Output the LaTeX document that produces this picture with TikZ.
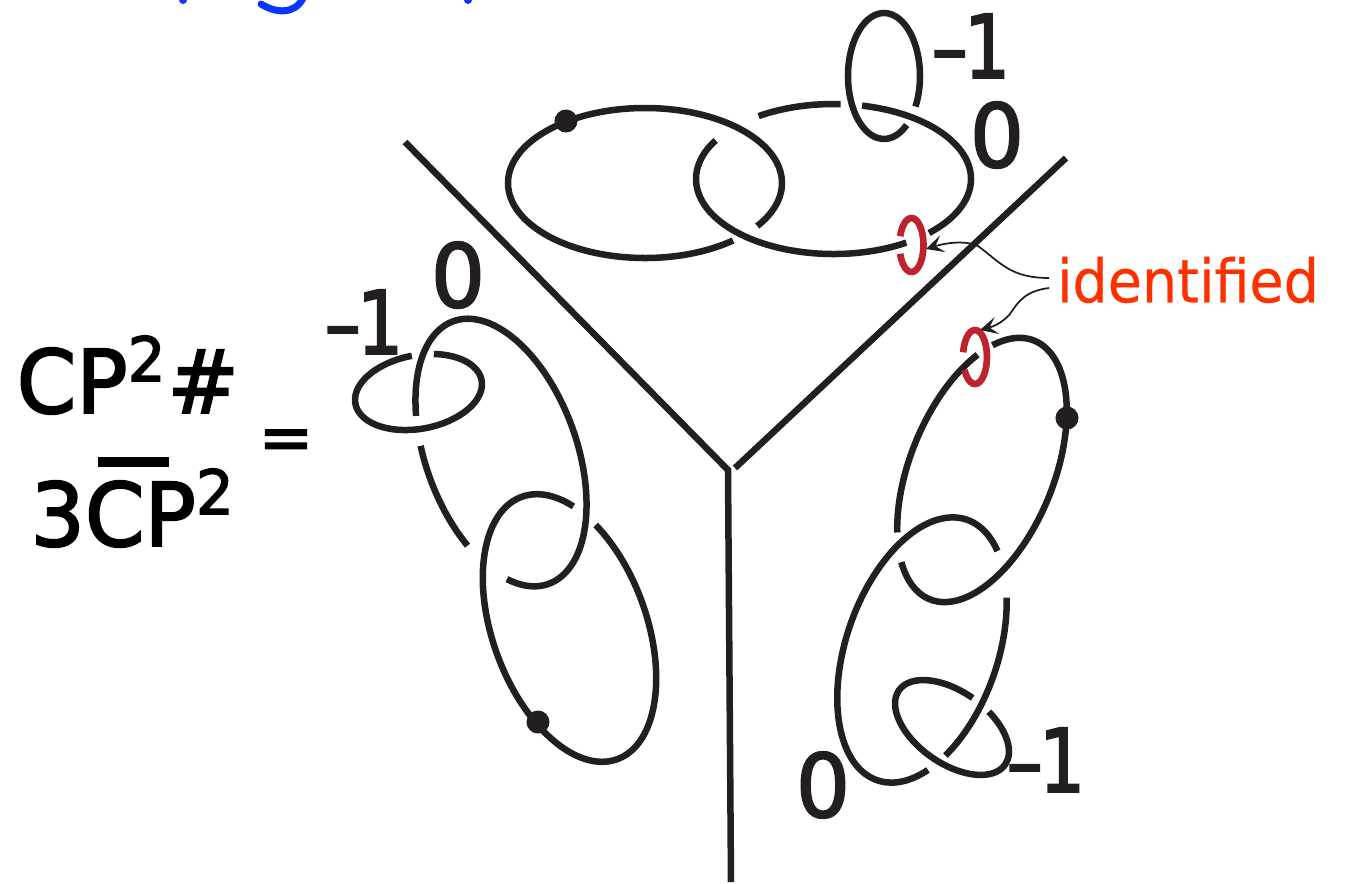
\documentclass[tikz,border=0pt]{standalone}
\usepackage{fontspec}
\setmainfont{DejaVu Sans}
\newfontfamily\labelfont[FakeStretch=0.82,FakeBold=2.2]{DejaVu Sans}
\newfontfamily\widefont[FakeStretch=0.97,FakeBold=2.2]{DejaVu Sans}
\newfontfamily\notefont[FakeStretch=0.93,FakeBold=0.4]{DejaVu Sans}
\usepackage{xcolor}
\usetikzlibrary{arrows.meta}
\definecolor{ringblack}{RGB}{35, 31, 32}
\definecolor{ringred}{RGB}{190, 34, 46}
\definecolor{labelred}{RGB}{255, 48, 0}
\definecolor{headblue}{RGB}{10, 54, 255}
\tikzset{
  ringline/.style={
    draw=ringblack,
    line width=1.85pt
  },
  meridian/.style={
    draw=ringred,
    line width=1.9pt
  },
  wall/.style={
    draw=ringblack,
    line width=1.85pt
  },
  pointer/.style={
    -{Stealth[length=5pt,width=5pt,inset=2.2pt]},
    draw=ringblack,
    line width=0.5pt
  },
  balldot/.style={
    circle,
    fill=ringblack,
    inner sep=0pt,
    minimum size=0.23cm
  },
  framing/.style={
    text=ringblack,
    font=\labelfont\fontsize{25}{25}\selectfont,
    inner sep=0pt
  },
  zerolabel/.style={
    text=ringblack,
    font=\widefont\fontsize{25}{25}\selectfont,
    inner sep=0pt
  },
  bigtext/.style={
    text=black,
    anchor=base west,
    font=\widefont\fontsize{25}{30}\selectfont,
    inner sep=0pt
  }
}
\begin{document}
\begin{tikzpicture}[x=0.01cm,y=-0.01cm]
  \useasboundingbox (0,0) rectangle (1356,884);
  % cut off heading
  \clip (0,0) rectangle (1356,884);
  \fill[headblue] (183,0) circle (4);
  \fill[headblue] (468,0) circle (4);
  \draw[headblue,line width=2pt,line cap=round] (261,4) .. controls (275,13) and (295,15) .. (303,-2);
  % top ring pair
  \draw[ringline] (645,183) ++(50:137 and 75) arc[start angle=50,end angle=395,x radius=137,y radius=75];
  \draw[ringline] (833.5,179) ++(237:137.5 and 75) arc[start angle=237,end angle=273,x radius=137.5,y radius=75];
  \draw[ringline] (833.5,179) ++(282:137.5 and 75) arc[start angle=282,end angle=406,x radius=137.5,y radius=75];
  \draw[ringline] (833.5,179) ++(58:137.5 and 75) arc[start angle=58,end angle=211,x radius=137.5,y radius=75];
  \draw[ringline] (884,76) ++(29:36 and 63) arc[start angle=29,end angle=-309,x radius=36,y radius=63];
  \node[balldot] (dottop) at (566,121) {};
  % left ring pair
  \begin{scope}[shift={(569.5,628)},rotate=-70]
    \draw[ringline] (-129:139.6 and 77) arc[start angle=-129,end angle=216,x radius=139.6,y radius=77];
  \end{scope}
  \begin{scope}[shift={(501,452.5)},rotate=-70]
    \draw[ringline] (30:139.7 and 75.5) arc[start angle=30,end angle=-243,x radius=139.7,y radius=75.5];
    \draw[ringline] (104:139.7 and 75.5) arc[start angle=104,end angle=57,x radius=139.7,y radius=75.5];
  \end{scope}
  \begin{scope}[shift={(418.5,392)},rotate=10.5]
    \draw[ringline] (-70:64.2 and 36.8) arc[start angle=-70,end angle=270,x radius=64.2,y radius=36.8];
  \end{scope}
  \node[balldot] (dotleft) at (538,722) {};
  % right ring pair
  \begin{scope}[shift={(982,470)},rotate=68]
    \draw[ringline] (-31:139.5 and 72) arc[start angle=-31,end angle=214,x radius=139.5,y radius=72];
    \draw[ringline] (230:139.5 and 72) arc[start angle=230,end angle=319,x radius=139.5,y radius=72];
  \end{scope}
  \begin{scope}[shift={(922,650)},rotate=71]
    \draw[ringline] (31:137.8 and 76) arc[start angle=31,end angle=-216,x radius=137.8,y radius=76];
    \draw[ringline] (56:137.8 and 76) arc[start angle=56,end angle=132,x radius=137.8,y radius=76];
  \end{scope}
  \begin{scope}[shift={(952,727.5)},rotate=-35]
    \draw[ringline] (-90:64.8 and 36) arc[start angle=-90,end angle=-431,x radius=64.8,y radius=36];
  \end{scope}
  \node[balldot] (dotright) at (1067,418) {};
  % red meridians
  \draw[meridian] (911.5,245) ++(199:12 and 27) arc[start angle=199,end angle=521,x radius=12,y radius=27];
  \draw[meridian] (975,357) ++(190:12 and 27) arc[start angle=190,end angle=511,x radius=12,y radius=27];
  % the three walls
  \coordinate (wallleft) at (405,142);
  \coordinate (wallright) at (1066,158);
  \coordinate (wallfoot) at (731,882);
  \coordinate (corner) at (728,470);
  \coordinate (cornerb) at (735,468);
  \draw[wall] (wallleft) -- (corner) -- (wallfoot);
  \draw[wall] (wallright) -- (cornerb);
  % labels
  \node[framing,anchor=base west] (topminus) at (931,78) {–\hspace*{-0.04em}1};
  \node[zerolabel] (topzero) at (997,135) {0};
  \node[zerolabel] (leftzero) at (458,275) {0};
  \node[framing,anchor=base west] (leftminus) at (324,354) {–\hspace*{-0.04em}1};
  \node[zerolabel] (rightzero) at (823,785) {0};
  \node[framing,anchor=base west] (rightminus) at (1006,792) {–\hspace*{-0.04em}1};
  \node[inner sep=0pt,text=labelred,font=\notefont\fontsize{17}{17}\selectfont] (identified) at (1188,280) {identified};
  \node[bigtext] (cptop) at (16,413) {CP\textsuperscript{2}\#};
  \node[bigtext] (cpbot) at (30,546) {3CP\textsuperscript{2}};
  \node[inner sep=0pt,text=black,font=\widefont\fontsize{19}{19}\selectfont] (equals) at (286,445) {=};
  \draw[black,line width=2.8pt] (98,462) -- (169,462);
  % pointers
  \coordinate (pa) at (926,249);
  \coordinate (pb) at (980,330);
  \coordinate (la) at (1049,278);
  \coordinate (lb) at (1049,288);
  \draw[pointer] (la) .. controls (1010,278) and (1000,262) .. (978,246) .. controls (965,240) and (945,243) .. (pa);
  \draw[pointer] (lb) .. controls (1025,291) and (1018,302) .. (1010,314) .. controls (1003,322) and (995,326) .. (pb);
\end{tikzpicture}
\end{document}
